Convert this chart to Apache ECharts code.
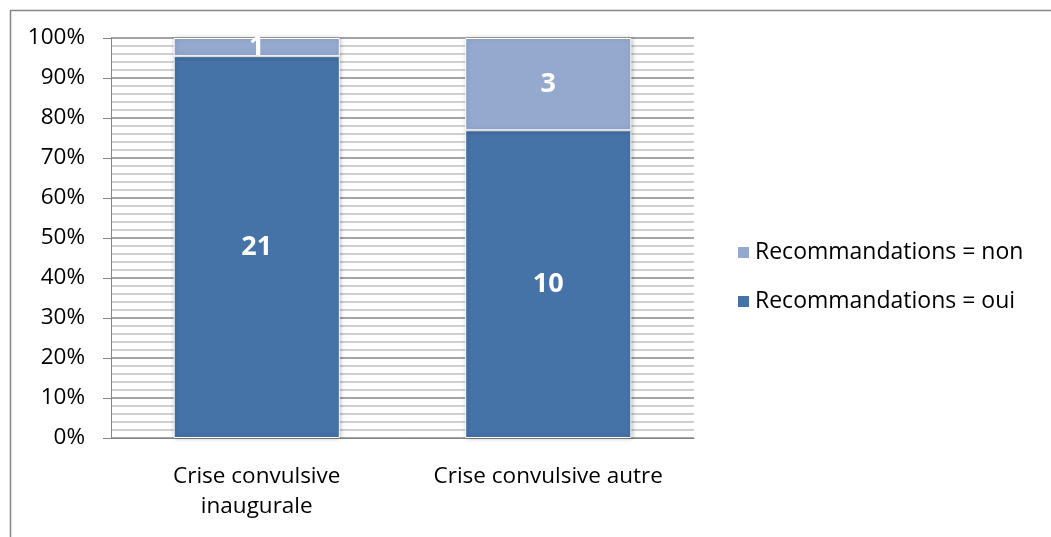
<!DOCTYPE html>
<html>
<head>
<meta charset="utf-8">
<script src="https://cdn.jsdelivr.net/npm/echarts@6/dist/echarts.min.js"></script>
<style>
html,body{margin:0;padding:0;background:#fff;}
#chart{width:1051px;height:537px;}
</style>
</head>
<body>
<div id="chart"></div>
<script>
const categories = ['Crise convulsive\ninaugurale', 'Crise convulsive autre'];
const seriesNames = ['Recommandations = oui', 'Recommandations = non'];
const ouiCounts = [21, 10];
const nonCounts = [1, 3];
const yTickLabels = ['0%','10%','20%','30%','40%','50%','60%','70%','80%','90%','100%'];

const totals = ouiCounts.map((v, i) => v + nonCounts[i]);
const ouiPct = ouiCounts.map((v, i) => v / totals[i] * 100);
const nonPct = nonCounts.map((v, i) => v / totals[i] * 100);

const FONT = 'Open Sans';
const chart = echarts.init(document.getElementById('chart'));
const labelCfg = (counts) => ({
  show: true,
  position: 'inside',
  color: '#fff',
  fontFamily: FONT,
  fontWeight: 'bold',
  fontSize: 27,
  formatter: (p) => String(counts[p.dataIndex])
});
chart.setOption({
  animation: false,
  backgroundColor: '#fff',
  textStyle: {fontFamily: FONT},
  graphic: [{
    type: 'rect', left: 8, top: 8, silent: true,
    shape: {width: 1100, height: 600},
    style: {fill: 'none', stroke: '#868686', lineWidth: 1.5}
  }],
  grid: {left: 111, right: 357, top: 38, bottom: 99},
  legend: {
    orient: 'vertical',
    left: 731,
    top: 233,
    itemWidth: 13,
    itemHeight: 13,
    itemGap: 20,
    icon: 'rect',
    data: [seriesNames[1], seriesNames[0]],
    textStyle: {fontFamily: FONT, fontSize: 23, color: '#000', lineHeight: 29}
  },
  xAxis: {
    type: 'category',
    data: categories,
    axisLine: {lineStyle: {color: '#868686', width: 1}},
    axisTick: {show: false},
    axisLabel: {interval: 0, color: '#000', fontFamily: FONT, fontSize: 22.5, lineHeight: 30, margin: 24}
  },
  yAxis: {
    type: 'value',
    min: 0, max: 100, interval: 10,
    axisLine: {show: true, lineStyle: {color: '#868686'}},
    axisTick: {show: true, length: 8, lineStyle: {color: '#868686'}},
    axisLabel: {color: '#000', fontFamily: FONT, fontSize: 22.5, margin: 26,
      formatter: (v) => yTickLabels[Math.round(v / 10)]},
    splitLine: {show: true, lineStyle: {color: '#868686', width: 1.5}},
    minorTick: {show: false, splitNumber: 5},
    minorSplitLine: {show: true, lineStyle: {color: '#c0c0c0', width: 1.5}}
  },
  series: [
    {
      name: seriesNames[0], type: 'bar', stack: 'total',
      data: ouiPct, barWidth: '57%',
      itemStyle: {color: '#4572A7', borderColor: '#fff', borderWidth: 1,
        shadowBlur: 4, shadowColor: 'rgba(0,0,0,0.25)', shadowOffsetX: 1},
      label: labelCfg(ouiCounts)
    },
    {
      name: seriesNames[1], type: 'bar', stack: 'total',
      data: nonPct, barWidth: '57%',
      itemStyle: {color: '#95A9CF', borderColor: '#fff', borderWidth: 1,
        shadowBlur: 4, shadowColor: 'rgba(0,0,0,0.25)', shadowOffsetX: 1},
      label: labelCfg(nonCounts)
    }
  ]
});
</script>
</body>
</html>
